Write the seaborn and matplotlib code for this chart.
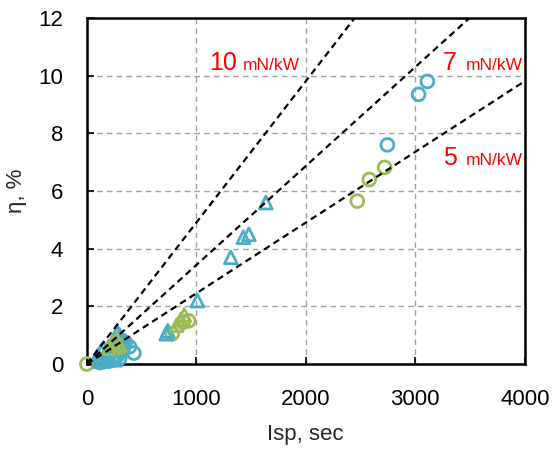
import numpy as np
import pandas as pd
import matplotlib
matplotlib.use("Agg")
import matplotlib.pyplot as plt
import seaborn as sns

# Thruster data: specific impulse (s) and efficiency (%)
blue_circle_isp = [3110, 3030, 2745, 430, 390, 350, 330, 300, 280, 250, 200, 150, 120]
blue_circle_eta = [9.8, 9.35, 7.6, 0.38, 0.6, 0.75, 0.5, 0.2, 0.3, 0.15, 0.1, 0.08, 0.05]

green_circle_isp = [0, 2720, 2580, 2470, 780, 880, 930, 250, 300]
green_circle_eta = [0.0, 6.82, 6.4, 5.65, 1.05, 1.45, 1.5, 0.5, 0.7]

blue_tri_isp = [1635, 1480, 1430, 1315, 1010, 725, 740, 100, 130, 150, 180, 200,
                230, 250, 280, 300, 320, 350, 150, 200, 120, 260]
blue_tri_eta = [5.6, 4.5, 4.4, 3.7, 2.2, 1.05, 1.15, 0.3, 0.45, 0.55, 0.4, 0.6,
                0.7, 0.8, 1.1, 1.0, 0.9, 0.8, 0.2, 0.25, 0.1, 0.15]

green_tri_isp = [820, 860, 890, 240, 270, 200, 300]
green_tri_eta = [1.35, 1.55, 1.7, 0.75, 0.85, 0.55, 0.65]

# Constant thrust-to-power reference lines (mN/kW)
thrust_to_power = [10, 7, 5]
g0 = 9.81

BLUE = "#4BACC6"
GREEN = "#9BBB59"

df = pd.concat([
    pd.DataFrame({"isp": blue_circle_isp, "eta": blue_circle_eta, "grp": "b", "shape": "c"}),
    pd.DataFrame({"isp": green_circle_isp, "eta": green_circle_eta, "grp": "g", "shape": "c"}),
    pd.DataFrame({"isp": blue_tri_isp, "eta": blue_tri_eta, "grp": "b", "shape": "t"}),
    pd.DataFrame({"isp": green_tri_isp, "eta": green_tri_eta, "grp": "g", "shape": "t"}),
], ignore_index=True)

sns.set_style("white")
plt.rcParams["font.family"] = ["Liberation Sans", "DejaVu Sans"]

fig = plt.figure(figsize=(5.53, 4.5), dpi=100)
ax = fig.add_axes([0.157, 0.191, 0.792, 0.769])

sns.scatterplot(data=df, x="isp", y="eta", hue="grp", style="shape",
                palette={"b": BLUE, "g": GREEN}, markers={"c": "o", "t": "^"},
                s=85, linewidth=2.0, legend=False, ax=ax, zorder=3, clip_on=False)

# hollow markers: move fill colour to the outline
for coll in ax.collections:
    fc = coll.get_facecolors()
    coll.set_edgecolors(fc)
    coll.set_facecolor("none")

isp_line = np.array([0.0, 4000.0])
for tp in thrust_to_power:
    eta_line = tp * 1e-6 * g0 * isp_line / 2 * 100
    sns.lineplot(x=isp_line, y=eta_line, color="black", linewidth=1.6,
                 dashes=False, ax=ax, zorder=4)
    ax.lines[-1].set_linestyle((0, (3, 2)))

label_pos = {10: (1120, 10.2), 7: (3250, 10.2), 5: (3250, 6.9)}
for tp in thrust_to_power:
    x, y = label_pos[tp]
    ax.text(x, y, f"{tp}", color="red", fontsize=18, ha="left", va="baseline", zorder=5)
    ax.annotate("mN/kW", xy=(x, y), xycoords="data", xytext=(16.5 if tp < 10 else 24, 0),
                textcoords="offset points", color="red", fontsize=12.5,
                ha="left", va="baseline", zorder=5)

ax.set_xlim(0, 4000)
ax.set_ylim(0, 12)
ax.set_xticks([0, 1000, 2000, 3000, 4000])
ax.set_yticks([0, 2, 4, 6, 8, 10, 12])
ax.grid(True, color="#A0A0A0", linestyle=(0, (4, 3)), linewidth=1.0, zorder=0)
ax.set_axisbelow(True)
for sp in ax.spines.values():
    sp.set_visible(True)
    sp.set_color("black")
    sp.set_linewidth(1.8)
ax.tick_params(axis="both", direction="in", length=5, width=1.2, labelsize=16,
               colors="black", bottom=True, left=True)
ax.tick_params(axis="x", pad=18)
ax.tick_params(axis="y", pad=17)
ax.set_xlabel("Isp, sec", fontsize=16, labelpad=10)
ax.set_ylabel("η, %", fontsize=16, labelpad=8)

fig.savefig("out.png", dpi=100)
